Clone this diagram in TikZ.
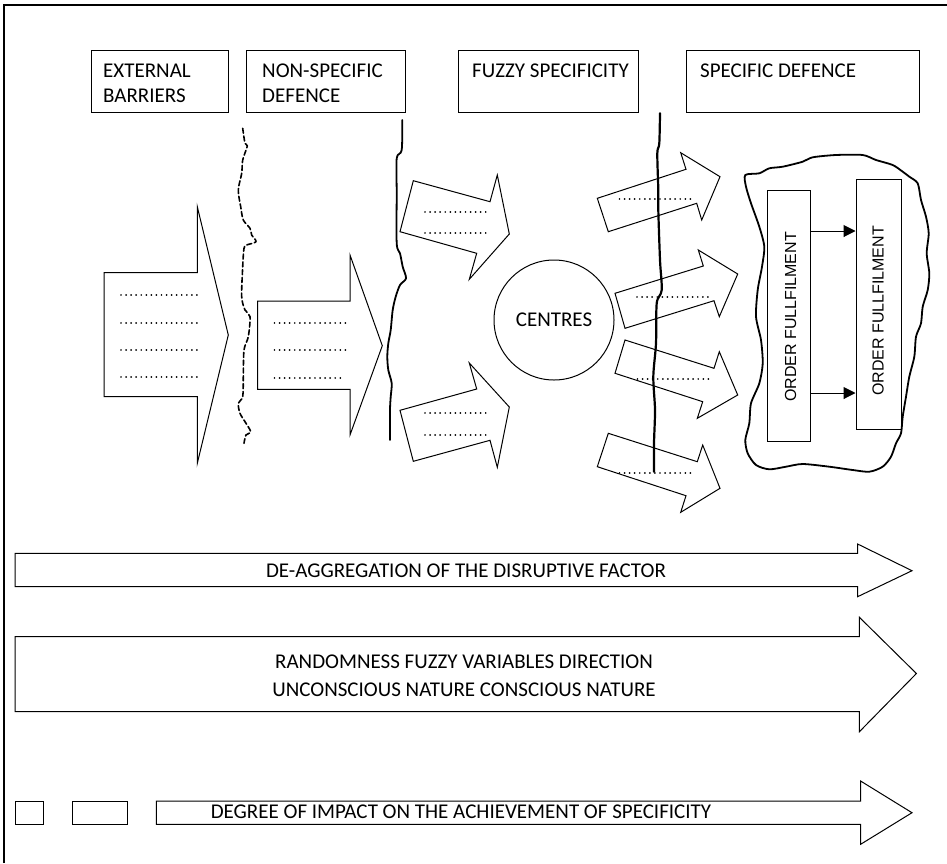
\documentclass[tikz,border=0pt]{standalone}
\usepackage{fontspec}
\setmainfont{Carlito}
\newfontfamily\boxfont{Liberation Sans}
\usetikzlibrary{arrows.meta}
\begin{document}
\begin{tikzpicture}[x=1pt,y=-1pt,
  hbox/.style={draw, line width=1pt, anchor=north west, minimum height=62pt, inner sep=0pt},
  htxt/.style={anchor=base west, inner sep=0pt, font=\fontsize{21}{25}\selectfont},
  btxt/.style={anchor=base, inner sep=0pt, font=\fontsize{21}{25}\selectfont},
  blockarrow/.style={draw, fill=white, line width=1pt, line join=miter},
  dots/.style={line width=1.9pt, line cap=round, dash pattern=on 0.01pt off 5.05pt},
  border/.style={line width=1.8pt, line join=round, line cap=round},
  ofbox/.style={draw, line width=1pt, inner sep=0pt},
  oftxt/.style={rotate=90, inner sep=0pt, font=\boxfont\fontsize{16}{18}\selectfont},
  link/.style={line width=1pt, -{Triangle[length=12pt,width=12pt]}}]

% page and frame
\useasboundingbox (0,0) rectangle (947,863);
\fill[white] (0,0) rectangle (947,863);
\draw[line width=1.5pt] (4,863) -- (4,5) -- (947,5);

% column headings
\node[hbox, minimum width=137pt] (h1) at (91,50) {};
\node[hbox, minimum width=159pt] (h2) at (246,50) {};
\node[hbox, minimum width=180pt] (h3) at (458,50) {};
\node[hbox, minimum width=233pt] (h4) at (686,50) {};
\node[htxt] (h1a) at (103,77) {EXTERNAL};
\node[htxt] (h1b) at (103,102) {BARRIERS};
\node[htxt] (h2a) at (262,77) {NON-SPECIFIC};
\node[htxt] (h2b) at (262,102) {DEFENCE};
\node[htxt] (h3a) at (472,77) {FUZZY SPECIFICITY};
\node[htxt] (h4a) at (700,77) {SPECIFIC DEFENCE};

% external barriers: large arrow
\draw[blockarrow] (104,272.7) -- (197.3,272.7) -- (197.3,206.7) -- (228.3,335)
  -- (197.3,463.3) -- (197.3,396.7) -- (104,396.7) -- cycle;
\foreach \yy in {295,322.7,350,377.3}
  \draw[dots] (121,\yy) -- (197,\yy);

% non-specific defence: arrow
\draw[blockarrow] (257.7,301) -- (350,301) -- (350,255) -- (382.3,345.7)
  -- (350,435) -- (350,389.3) -- (257.7,389.3) -- cycle;
\draw[dots] (274.5,322.7) -- (350,322.7);
\draw[dots] (274.5,350) -- (350,350);
\draw[dots] (274.5,377.7) -- (340.5,377.7);

% dashed boundary
\draw[border, line width=1.6pt, dash pattern=on 5pt off 2.8pt]
  plot[smooth, tension=0.5] coordinates {
  (242.7,128.3) (245,143.3) (247.3,146) (242.7,160) (241.7,173.3) (238.3,190)
  (240.7,206.7) (243.3,220) (250,228.3) (251.7,235) (256,241.7) (246.7,245)
  (244,248.3) (242.7,266.7) (241.7,296.7) (245,310) (250,316.7) (248.3,336.7)
  (244,350) (243.3,376.7) (242.7,396.7) (238.3,403.3) (240,413.3) (245,421.7)
  (250.7,431.7) (246,435) (244,443.3)};

% fuzzy specificity: tilted arrows towards the centres
\draw[blockarrow] (413.3,180.7) -- (490,201.7) -- (497.3,175) -- (509.3,234)
  -- (469.3,279.3) -- (476.7,253.3) -- (400,231.7) -- cycle;
\draw[dots] (425,211.7) -- (487,211.7);
\draw[dots] (425,233.3) -- (487,233.3);
\draw[blockarrow] (400,410.3) -- (476.7,389) -- (469.3,363) -- (509.3,407)
  -- (497.3,467.3) -- (490,440.3) -- (413.3,461.3) -- cycle;
\draw[dots] (425,413.3) -- (487,413.3);
\draw[dots] (425,435) -- (487,435);

% solid boundary
\draw[border, line width=1.8pt]
  plot[smooth, tension=0.5] coordinates {
  (402.3,120) (401.7,150) (396.7,158.3) (396.7,193.3) (396.7,243.3) (400,253.3)
  (402.7,266.7) (406,278.3) (400,285) (395.7,296.7) (392.7,310) (390.7,330)
  (388.3,343.3) (387.3,356.7) (388.3,370) (391.7,383.3) (390.7,396.7) (390,410)
  (390,440)};

% centres
\node[draw, circle, line width=1pt, minimum size=120pt, inner sep=0pt,
  font=\fontsize{21}{25}\selectfont] (ctr) at (554,320) {CENTRES};

% arrows leaving the centres
\draw[blockarrow] (597.3,198.3) -- (686,169.3) -- (680.7,152.7) -- (720,176.7)
  -- (701.7,220) -- (696.7,203.3) -- (608.3,231.7) -- cycle;
\draw[blockarrow] (615,293.3) -- (703.3,266) -- (698.3,250) -- (737.7,274)
  -- (719.3,316.7) -- (714,300.7) -- (625,328.3) -- cycle;
\draw[blockarrow] (625,340) -- (714,368.3) -- (719.3,351.7) -- (737.7,395)
  -- (697.3,418.3) -- (702.7,401.7) -- (615,373.3) -- cycle;
\draw[blockarrow] (608.3,433.3) -- (697.3,461.7) -- (702.7,445) -- (720,488.3)
  -- (680.7,512.3) -- (686,495.7) -- (597.3,466.7) -- cycle;

% specific boundary
\draw[border, line width=2.2pt]
  plot[smooth, tension=0.5] coordinates {
  (660,113.3) (659.3,143.3) (657.3,153.3) (658.3,190) (658.3,210) (660,260)
  (661.7,290) (656.7,303.3) (656,343.3) (653.3,376.7) (655,410) (654,443.3)
  (654,471.7)};

\draw[dots] (619.5,199.3) -- (695,199.3);
\draw[dots] (637,296.7) -- (712.7,296.7);
\draw[dots] (637.5,379.3) -- (712.7,379.3);
\draw[dots] (619.5,473.3) -- (695,473.3);

% specific defence area
\draw[border, line width=1.8pt]
  plot[smooth cycle, tension=0.45] coordinates {
  (745.3,175) (759.3,173.3) (769.3,168.3) (782.7,166.7) (802.7,161.7)
  (812.7,157.3) (836,155) (862.7,155) (876,160) (892.7,165) (902.7,171.7)
  (909.3,176.7) (917.7,183.3) (921,200) (926,216.7) (928.7,233.3) (926.7,253.3)
  (929.3,273.3) (927.7,290) (922.7,306.7) (921,323.3) (916,336.7) (914.3,356.7)
  (909.3,376.7) (906,396.7) (902.7,416.7) (901,433.3) (896,443.3) (891,456.7)
  (882.7,466.7) (869.3,471.7) (852.7,470) (829.3,466.7) (802.7,464) (786,466.7)
  (769.3,469.3) (756,465) (747.7,453.3) (745.3,440) (749.3,423.3) (751,403.3)
  (759.3,383.3) (762.7,363.3) (761,340) (756,316.7) (757.7,290) (762,266.7)
  (764.3,246.7) (759.3,226.7) (751,203.3) (746,186.7)};

\node[ofbox, minimum width=43pt, minimum height=250.3pt] (of1) at (788.5,315.85) {};
\node[ofbox, minimum width=45.7pt, minimum height=250pt] (of2) at (878.85,304.3) {};
\node[oftxt] (of1t) at (790.5,317) {ORDER FULLFILMENT};
\node[oftxt] (of2t) at (878,311) {ORDER FULLFILMENT};
\coordinate (ya) at (0,231);
\coordinate (yb) at (0,393);
\draw[link] (of1.east |- ya) -- (of2.west |- ya);
\draw[link] (of1.east |- yb) -- (of2.west |- yb);

% process arrows
\draw[blockarrow] (15,553.3) -- (857.6,553.3) -- (857.6,544) -- (912,570.7)
  -- (857.6,596.7) -- (857.6,586.7) -- (15,586.7) -- cycle;
\node[btxt] (p1) at (466,577.5) {DE-AGGREGATION OF THE DISRUPTIVE FACTOR};

\draw[blockarrow] (15,636.7) -- (859.4,636.7) -- (859.4,617.3) -- (916.4,673.5)
  -- (859.4,731.7) -- (859.4,711.7) -- (15,711.7) -- cycle;
\node[btxt] (p2a) at (464,668.5) {RANDOMNESS FUZZY VARIABLES DIRECTION};
\node[btxt] (p2b) at (464,696.5) {UNCONSCIOUS NATURE CONSCIOUS NATURE};

\draw[line width=1pt] (15,801) rectangle (43.6,824.3);
\draw[line width=1pt] (72.7,801) rectangle (127,824.3);
\draw[blockarrow] (156.4,801) -- (860.6,801) -- (860.6,781) -- (912,812.7)
  -- (860.6,844.3) -- (860.6,824.3) -- (156.4,824.3) -- cycle;
\node[btxt] (p3) at (461,818) {DEGREE OF IMPACT ON THE ACHIEVEMENT OF SPECIFICITY};
\end{tikzpicture}
\end{document}
